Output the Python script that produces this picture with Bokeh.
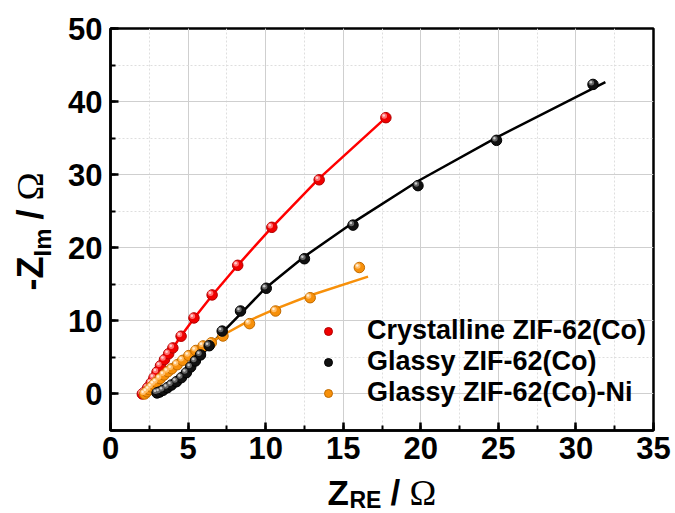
import math
from bokeh.plotting import figure
from bokeh.layouts import row, column
from bokeh.models import (Range1d, SingleIntervalTicker, Label, Legend, LegendItem,
                          ColumnDataSource)
from bokeh.transform import dodge
from bokeh.embed import file_html
from bokeh.resources import INLINE

# ---------------- data ----------------
red_x = [2.05, 2.2, 2.4, 2.62, 2.8, 3.0, 3.22, 3.48, 3.75, 4.02, 4.55, 5.38, 6.55, 8.2, 10.4, 13.45, 17.75]
red_y = [0.0, 0.25, 0.85, 1.5, 2.2, 3.0, 3.85, 4.7, 5.5, 6.3, 7.9, 10.4, 13.55, 17.6, 22.8, 29.3, 37.8]

black_x = [3.0, 3.17, 3.39, 3.67, 3.93, 4.25, 4.57, 4.89, 5.17, 5.47, 5.8, 6.36, 7.2, 8.38, 10.04, 12.5, 15.63, 19.82, 24.88, 31.1]
black_y = [0.14, 0.27, 0.51, 0.86, 1.23, 1.68, 2.23, 2.91, 3.69, 4.51, 5.34, 6.6, 8.6, 11.35, 14.46, 18.5, 23.1, 28.5, 34.7, 42.35]

orange_x = [2.2, 2.35, 2.5, 2.65, 2.8, 2.96, 3.2, 3.45, 3.7, 3.95, 4.3, 4.65, 5.05, 5.5, 5.97, 6.5, 7.25, 8.96, 10.64, 12.87, 16.04]
orange_y = [0.0, 0.3, 0.6, 0.95, 1.3, 1.6, 2.1, 2.6, 3.05, 3.45, 4.0, 4.6, 5.25, 5.95, 6.57, 7.0, 7.93, 9.62, 11.35, 13.17, 17.3]

# fitted curves
red_fit_x = [2.0, 2.4, 2.8, 3.2, 3.75, 4.5, 5.4, 6.6, 8.2, 10.4, 13.4, 17.75]
red_fit_y = [0.0, 0.8, 2.1, 3.7, 5.4, 7.8, 10.4, 13.6, 17.6, 22.8, 29.4, 37.8]

black_fit_x = [3.0, 3.6, 4.3, 5.0, 5.7, 6.4, 7.2, 8.4, 10.0, 12.5, 15.6, 19.8, 24.9, 31.9]
black_fit_y = [0.15, 0.75, 1.8, 3.2, 4.9, 6.6, 8.4, 11.0, 14.5, 18.8, 23.4, 29.1, 35.1, 42.65]

orange_fit_x = [2.2, 3.0, 4.0, 5.0, 6.0, 7.2, 9.0, 10.6, 12.9, 16.6]
orange_fit_y = [0.0, 1.7, 3.5, 5.1, 6.5, 8.0, 10.1, 11.6, 13.5, 16.05]

labels = ["Crystalline ZIF-62(Co)", "Glassy ZIF-62(Co)", "Glassy ZIF-62(Co)-Ni"]

x_ticks_interval = 5
y_ticks_interval = 10

# ---------------- layout geometry ----------------
W, H = 675, 513
LW = 56            # width of the y-title strip
BH = 41            # height of the x-title strip
MW, MH = W - LW, H - BH
FL, FR = 110, 653  # page x of the plot frame
L, R, T, B = FL - LW, W - FR, 28, MH - 430
x0, x1, y0, y1 = 0, 35, -5, 50

p = figure(width=MW, height=MH, x_range=Range1d(x0, x1), y_range=Range1d(y0, y1),
           output_backend="svg", toolbar_location=None,
           min_border_left=L, min_border_right=R, min_border_top=T, min_border_bottom=B)
p.background_fill_color = "white"
p.border_fill_color = "white"
p.outline_line_color = "black"
p.outline_line_width = 2.5

fw = MW - L - R
fh = MH - T - B

p.xaxis.ticker = SingleIntervalTicker(interval=x_ticks_interval, num_minor_ticks=2)
p.yaxis.ticker = SingleIntervalTicker(interval=y_ticks_interval, num_minor_ticks=2)

for ax in (p.xaxis, p.yaxis):
    ax.axis_line_width = 2.5
    ax.axis_line_color = "black"
    ax.major_tick_in = 8
    ax.major_tick_out = 0
    ax.minor_tick_in = 5
    ax.minor_tick_out = 0
    ax.major_tick_line_width = 2.5
    ax.minor_tick_line_width = 2
    ax.major_label_text_font = "Liberation Sans"
    ax.major_label_text_font_style = "bold"
    ax.major_label_text_font_size = "31px"
    ax.major_label_text_color = "black"
p.xaxis.major_label_standoff = 6
p.yaxis.major_label_standoff = 8

for g in (p.xgrid, p.ygrid):
    g.grid_line_color = "#cfcfcf"
    g.grid_line_width = 1
    g.minor_grid_line_color = "#dedede"
    g.minor_grid_line_dash = "2 2"
    g.minor_grid_line_width = 1

# ---------------- glyphs ----------------
p.line(red_fit_x, red_fit_y, line_color="#ff0000", line_width=2.5)
p.line(black_fit_x, black_fit_y, line_color="#000000", line_width=2.5)
p.line(orange_fit_x, orange_fit_y, line_color="#f7900a", line_width=2.5)

dx = -1.6 * (x1 - x0) / fw
dy = 1.6 * (y1 - y0) / fh

def balls(xs, ys, base, edge, hi, core):
    src = ColumnDataSource(dict(x=xs, y=ys))
    r = p.scatter("x", "y", source=src, size=10.5, marker="circle",
                  fill_color=base, line_color=edge, line_width=1)
    p.scatter(dodge("x", dx), dodge("y", dy), source=src, size=5.5, marker="circle",
              fill_color=hi, line_color=None)
    p.scatter(dodge("x", dx * 1.3), dodge("y", dy * 1.3), source=src, size=2.5,
              marker="circle", fill_color=core, line_color=None)
    return r

r_red = balls(red_x, red_y, "#f00000", "#b00000", "#ff7070", "#ffd0d0")
r_orange = balls(orange_x, orange_y, "#f7900a", "#c06a00", "#ffbe6a", "#fff0d8")
r_black = balls(black_x, black_y, "#111111", "#000000", "#666666", "#cccccc")

legend = Legend(items=[LegendItem(label=labels[0], renderers=[r_red]),
                       LegendItem(label=labels[1], renderers=[r_black]),
                       LegendItem(label=labels[2], renderers=[r_orange])],
                location=(208, 22))
legend.border_line_color = None
legend.background_fill_alpha = 0
legend.label_text_font = "Liberation Sans"
legend.label_text_font_style = "bold"
legend.label_text_font_size = "27px"
legend.label_text_color = "black"
legend.glyph_width = 20
legend.glyph_height = 20
legend.label_standoff = 29
legend.spacing = -2
legend.padding = 5
legend.margin = 0
p.add_layout(legend, "center")

# ---------------- axis-title strips (data coordinates = page pixels) ----------------
def strip(w, h, xr, yr):
    f = figure(width=w, height=h, x_range=Range1d(*xr), y_range=Range1d(*yr),
               output_backend="svg", toolbar_location=None,
               x_axis_type=None, y_axis_type=None,
               min_border=0, min_border_left=0, min_border_right=0,
               min_border_top=0, min_border_bottom=0)
    f.outline_line_color = None
    f.background_fill_color = "white"
    f.border_fill_color = "white"
    f.xgrid.visible = False
    f.ygrid.visible = False
    return f

SHIFT = 0.36  # anchor-to-baseline offset of the rendered text, in em

def lab(f, x, y, text, size, font="Liberation Sans", style="bold", rotated=False):
    s = SHIFT * size
    if rotated:
        x, ang = x - s, math.pi / 2
    else:
        y, ang = y - s, 0.0
    f.add_layout(Label(x=x, y=y, text=text, text_font=font, text_font_style=style,
                       text_font_size=f"{size}px", text_color="black", angle=ang,
                       text_align="left", text_baseline="alphabetic"))

# x title: Z_RE / Ω  (the strip's frame is aligned with the plot frame)
fb = strip(MW, BH, (FL, FR), (H, MH))
lab(fb, 327, 505, "Z", 35)
lab(fb, 349, 507.5, "RE", 23)
lab(fb, 390, 505, "/", 35)
lab(fb, 409, 505, "Ω", 36, font="Liberation Serif", style="normal")

# y title: -Z_Im / Ω  (rotated, reads bottom-to-top)
fl = strip(LW, H, (0, LW), (H, 0))
lab(fl, 43, 290, "-Z", 36, rotated=True)
lab(fl, 51, 256, "Im", 24, rotated=True)
lab(fl, 43, 219, "/", 36, rotated=True)
lab(fl, 43, 200, "Ω", 38, font="Liberation Serif", style="normal", rotated=True)

layout = row(fl, column(p, fb))
open("out.html", "w").write(file_html(layout, INLINE))
